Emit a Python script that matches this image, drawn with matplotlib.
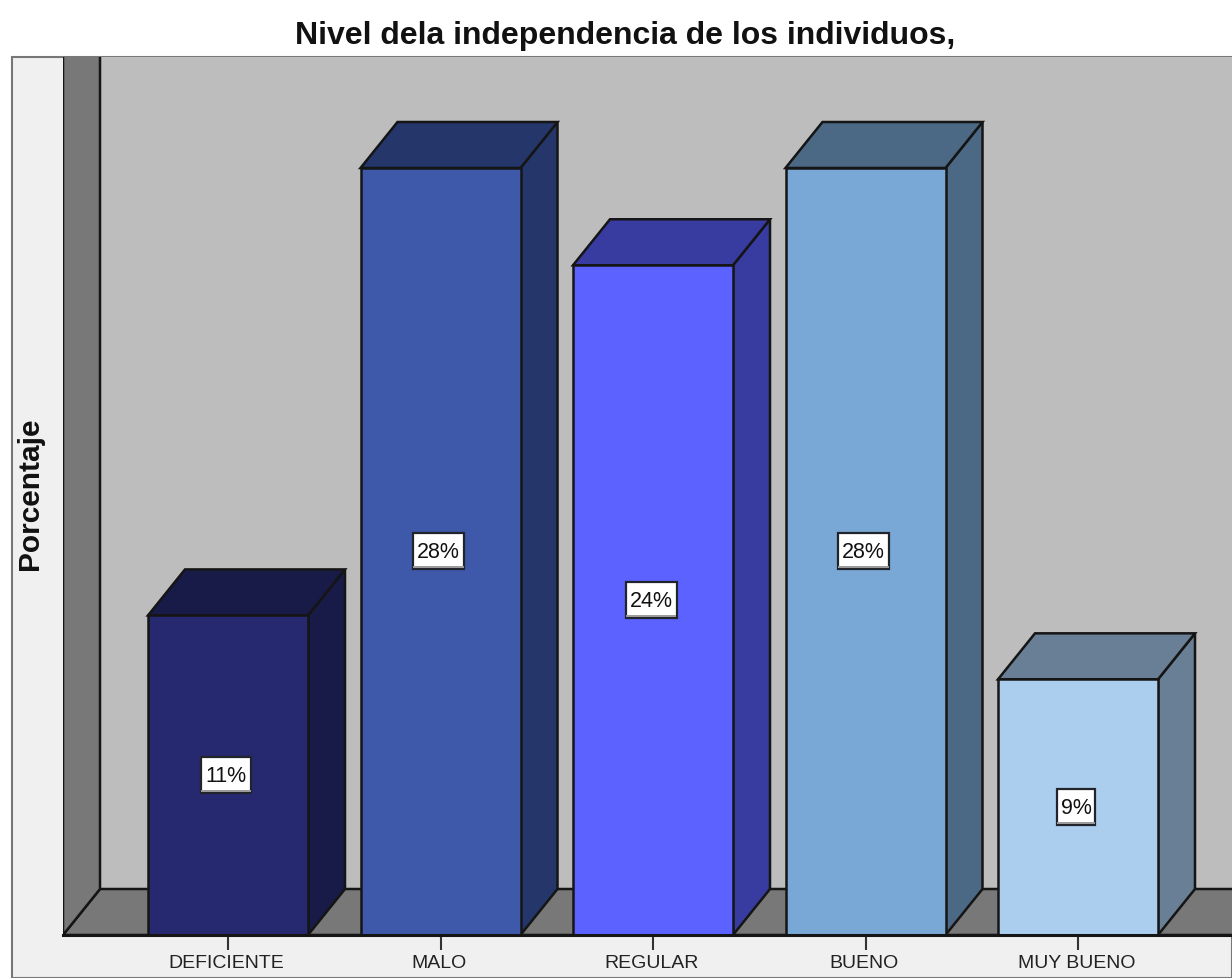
import matplotlib
matplotlib.use("Agg")
import matplotlib.pyplot as plt
from matplotlib.patches import Polygon, Rectangle
from matplotlib.transforms import ScaledTranslation

categories = ["DEFICIENTE", "MALO", "REGULAR", "BUENO", "MUY BUENO"]
values = [11.5, 27.6, 24.1, 27.6, 9.2]
labels = ["11%", "28%", "24%", "28%", "9%"]
front = ["#262970", "#3e58aa", "#5b62ff", "#79a8d6", "#acceee"]
top = ["#181a47", "#25366b", "#383ba0", "#4b6885", "#687f95"]
side = ["#181a47", "#25366b", "#383ba0", "#4b6885", "#687f95"]
title = "Nivel dela independencia de los individuos,"
ylabel = "Porcentaje"

W, H = 1232, 979
plt.rcParams["font.family"] = ["Liberation Sans", "DejaVu Sans"]
fig = plt.figure(figsize=(W / 100, H / 100), dpi=100, facecolor="white")

# outer panel
fig.add_artist(Rectangle((12 / W, 0), (W - 12) / W, (H - 58) / H, transform=fig.transFigure,
                         facecolor="#f0f0f0", edgecolor="#777777", lw=1.5, zorder=-5))

left, right, ytop, ybase = 63, 1232, 58, 936
ax = fig.add_axes([left / W, (H - ybase) / H, (right - left) / W, (ybase - ytop) / H], zorder=1)
px_x, px_y = 212.5, 27.79
ax.set_xlim((left - 228) / px_x, (right - 228) / px_x)
ax.set_ylim(0, (ybase - ytop) / px_y)
x0, x1 = ax.get_xlim()
y0, y1 = ax.get_ylim()
dx, dy = 37 / px_x, 46 / px_y
ax.set_facecolor("#bdbdbd")
for s in ax.spines.values():
    s.set_visible(False)

edge = "#151515"
lw = 1.8
# floor and left wall
ax.add_patch(Polygon([(x0, 0), (x0 + dx, dy), (x1 + 1, dy), (x1 + 1, 0)], closed=True,
                     facecolor="#787878", edgecolor=edge, lw=lw, zorder=1))
ax.add_patch(Polygon([(x0, 0), (x0 + dx, dy), (x0 + dx, y1 + 1), (x0, y1 + 1)], closed=True,
                     facecolor="#787878", edgecolor=edge, lw=lw, zorder=1))

bar_w = 160 / px_x
xs = list(range(len(categories)))
ax.bar(xs, values, width=bar_w, color=front, edgecolor=edge, linewidth=lw, zorder=3)
for x, v, t, sd in zip(xs, values, top, side):
    l, r = x - bar_w / 2, x + bar_w / 2
    ax.add_patch(Polygon([(r, 0), (r + dx, dy), (r + dx, v + dy), (r, v)], closed=True,
                         facecolor=sd, edgecolor=edge, lw=lw, zorder=2.5))
    ax.add_patch(Polygon([(l, v), (l + dx, v + dy), (r + dx, v + dy), (r, v)], closed=True,
                         facecolor=t, edgecolor=edge, lw=lw, zorder=2.5))

renderer = fig.canvas.get_renderer()
for x, v, lab in zip(xs, values, labels):
    cx = x - 2 / px_x
    txt = ax.text(cx, v / 2, lab, ha="center", va="center", fontsize=15.5,
                  color="#111111", zorder=6)
    w_px = txt.get_window_extent(renderer).width + 8
    bw, bh = w_px / px_x, 36 / px_y
    ax.add_patch(Rectangle((cx - bw / 2, v / 2 - bh / 2), bw, bh, facecolor="white",
                           edgecolor="#22242c", lw=1.6, zorder=5))
    ax.plot([cx - bw / 2, cx + bw / 2], [v / 2 - bh / 2 + 2.5 / px_y] * 2,
            color="#9a9a9a", lw=1.4, zorder=5.5, solid_capstyle="butt")

ax.axhline(0, color=edge, lw=2.2, zorder=4, clip_on=False)
ax.set_xticks(xs)
ax.set_xticklabels(categories, fontsize=14, color="#222222")
ax.tick_params(axis="x", length=10.5, width=1.5, color="#333333", pad=3.5)
shift = ScaledTranslation(-1.5 / 100, 0, fig.dpi_scale_trans)
for tl in ax.get_xticklabels():
    tl.set_transform(tl.get_transform() + shift)
ax.set_yticks([])

fig.text(625 / W, 1 - 36 / H, title, ha="center", va="center", fontsize=23,
         fontweight="bold", color="#111111")
fig.text(30 / W, 1 - 494 / H, ylabel, rotation=90, ha="center", va="center", fontsize=21.5,
         fontweight="bold", color="#111111")

fig.savefig("out.png", dpi=100)
